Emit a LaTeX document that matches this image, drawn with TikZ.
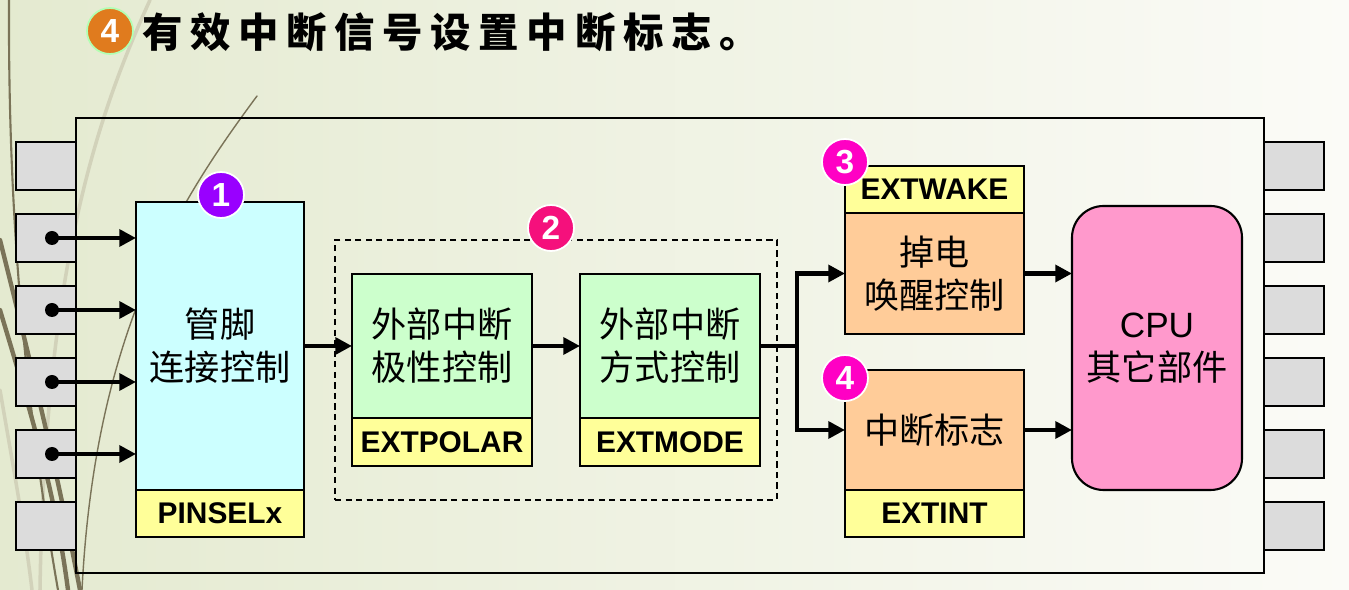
\documentclass[tikz,border=0pt]{standalone}
\usepackage{fontspec}
\usepackage{tikz}
\usetikzlibrary{calc,positioning,arrows.meta}
\setmainfont{Liberation Sans}
\newfontfamily\cjk{Noto Sans CJK SC}
\newfontfamily\cjktitle[LetterSpace=19]{Noto Sans CJK SC}
\definecolor{bgleft}{HTML}{E4EAD0}
\definecolor{bgright}{HTML}{FBFBF7}
\definecolor{decodark}{HTML}{7A7358}
\definecolor{decolight}{HTML}{D2D2BA}
\definecolor{pingray}{HTML}{DCDCDC}
\definecolor{pincyan}{HTML}{CCFFFF}
\definecolor{regyellow}{HTML}{FFFF99}
\definecolor{polgreen}{HTML}{CCFFCC}
\definecolor{wakeorange}{HTML}{FFCC99}
\definecolor{cpupink}{HTML}{FF99CC}
\definecolor{badgeviolet}{HTML}{9900FF}
\definecolor{badgerose}{HTML}{F5107C}
\definecolor{badgemagenta}{HTML}{FF00C4}
\definecolor{titleorange}{HTML}{E07B1E}
\def\px{0.2mm}
\tikzset{
	>={Triangle[length=9.5pt,width=9.5pt]},
	ctlbox/.style={draw, line width=1.2pt, inner sep=0pt, outer sep=0pt, align=center, font=\cjk\fontsize{20}{24.5}\selectfont},
	regbox/.style={draw, line width=1.2pt, inner sep=0pt, outer sep=0pt, fill=regyellow, font=\bfseries\fontsize{17}{17}\selectfont},
	pinbox/.style={draw, line width=1.2pt, fill=pingray, minimum width=60*\px, minimum height=48*\px, inner sep=0pt},
	badge/.style={circle, draw=white, line width=1pt, minimum size=46*\px, inner sep=0pt, text=white, font=\bfseries\fontsize{19}{19}\selectfont},
	dot/.style={circle, fill, minimum size=14*\px, inner sep=0pt},
	wire/.style={->, line width=2.5pt},
}

\begin{document}
\begin{tikzpicture}[
            x=0.2mm, y=-0.2mm,
            deco/.style={decodark, line cap=round},
            decol/.style={decolight, line cap=round}
        ]
        \useasboundingbox (0,0) rectangle (1349,590);
        \shade[left color=bgleft, right color=bgright] (0,0) rectangle (1349,590);
        \draw[decol, line width=2pt] (150,0) .. controls (100,110) and (45,260) .. (40,590);
        \draw[decol, line width=2pt] (0,390) .. controls (12,460) and (25,530) .. (32,590);
        \draw[deco, line width=1.2pt] (9,0) .. controls (8,220) and (25,400) .. (58,590);
        \draw[deco, line width=2.5pt] (0,240) .. controls (25,340) and (55,460) .. (80,590);
        \draw[deco, line width=2.5pt] (0,310) .. controls (30,410) and (55,490) .. (68,590);
        \draw[deco, line width=0.8pt] (257,96) .. controls (180,200) and (95,330) .. (82,590);

        \node[draw, line width=1.2pt, minimum width=1188*\px, minimum height=455*\px] (chip) at (670,345.5) {};
        \foreach \y [count=\i] in {166,238,310,382,454,526} {
            \node[pinbox] (lp\i) at (46,\y) {};
            \node[pinbox] (rp\i) at (1294,\y) {};
        }

        \node[ctlbox, fill=pincyan, minimum width=168*\px, minimum height=288*\px] (pinsel) at (220,346) {管脚\\连接控制};
        \node[regbox, minimum width=168*\px, minimum height=47*\px, below=0pt of pinsel] (pinselreg) {PINSELx};

        \node[draw, dashed, line width=0.8pt, dash pattern=on 3.5pt off 2.5pt, minimum width=442*\px, minimum height=260*\px] (group) at (556,370) {};
        \node[ctlbox, fill=polgreen, minimum width=180*\px, minimum height=144*\px] (polar) at (442,346) {外部中断\\极性控制};
        \node[regbox, minimum width=180*\px, minimum height=48*\px, below=0pt of polar] (polarreg) {EXTPOLAR};
        \node[ctlbox, fill=polgreen, minimum width=180*\px, minimum height=144*\px] (mode) at (670,346) {外部中断\\方式控制};
        \node[regbox, minimum width=180*\px, minimum height=48*\px, below=0pt of mode] (modereg) {EXTMODE};

        \node[regbox, minimum width=179*\px, minimum height=47*\px] (wakereg) at (934.5,189.5) {EXTWAKE};
        \node[ctlbox, fill=wakeorange, minimum width=179*\px, minimum height=121*\px, below=0pt of wakereg] (wake) {掉电\\唤醒控制};
        \node[ctlbox, fill=wakeorange, minimum width=179*\px, minimum height=120*\px] (flag) at (934.5,430) {中断标志};
        \node[regbox, minimum width=179*\px, minimum height=47*\px, below=0pt of flag] (flagreg) {EXTINT};

        \node[ctlbox, fill=cpupink, rounded corners=18pt, minimum width=170*\px, minimum height=284*\px, font=\fontsize{20}{24.5}\selectfont] (cpu) at (1157,348) {CPU\\{\cjk 其它部件}};

        \foreach \i in {2,...,5} {
            \node[dot] (dot\i) at ($(lp\i.center)+(6,0)$) {};
            \draw[wire] (dot\i.center) -- (dot\i.center -| pinsel.west);
        }
        \draw[wire] (pinsel.east) -- (polar.west);
        \draw[wire] (polar.east) -- (mode.west);
        \coordinate (junc) at (797,346);
        \draw[line width=2.5pt] (mode.east) -- (junc);
        \draw[wire] (junc) |- (wake.west);
        \draw[wire] (junc) |- (flag.west);
        \draw[wire] (wake.east) -- (wake.east -| cpu.west);
        \draw[wire] (flag.east) -- (flag.east -| cpu.west);

        \node[badge, fill=badgeviolet] (b1) at (221,195) {1};
        \node[badge, fill=badgerose] (b2) at (551,228) {2};
        \node[badge, fill=badgemagenta] (b3) at (845,162) {3};
        \node[badge, fill=badgemagenta] (b4) at (845,378) {4};

        \node[badge, fill=titleorange, draw=white!70!green, minimum size=46*\px, font=\bfseries\fontsize{19}{19}\selectfont] (tb) at (110,31) {4};
        \node[anchor=west, font=\cjktitle\bfseries\fontsize{23}{23}\selectfont] (title) at (136,32) {有效中断信号设置中断标志。};
    \end{tikzpicture}
\end{document}
